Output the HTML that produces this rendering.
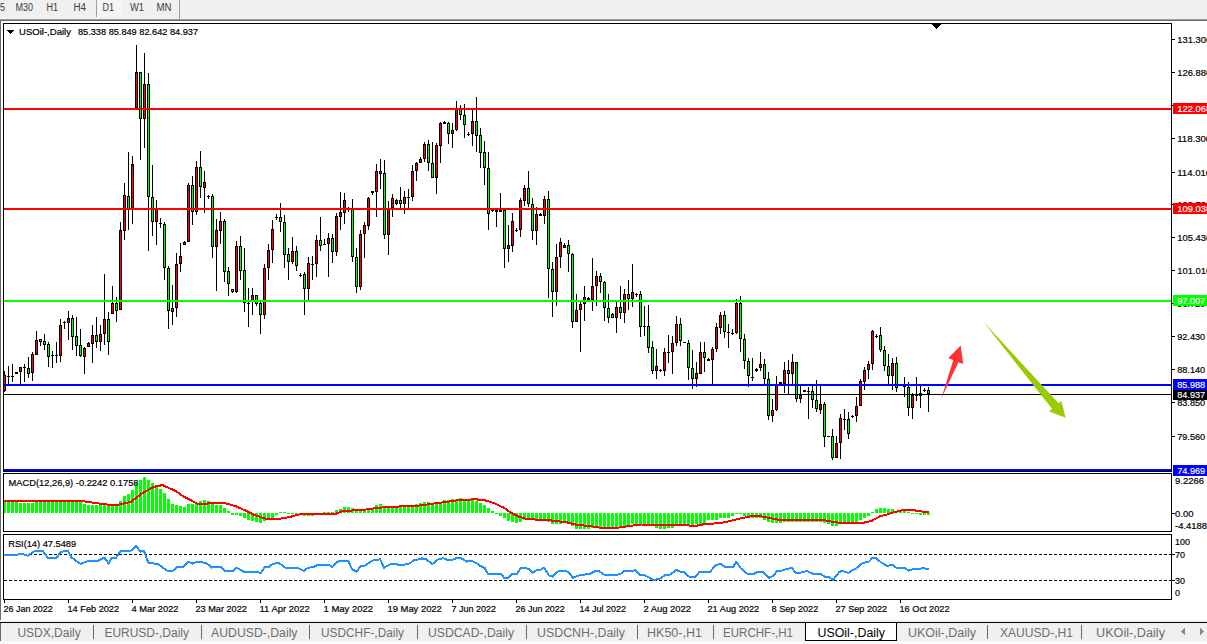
<!DOCTYPE html><html><head><meta charset="utf-8"><style>html,body{margin:0;padding:0;background:#fff;overflow:hidden}svg{display:block}text{font-family:"Liberation Sans", sans-serif}</style></head><body>
<svg width="1207" height="644" viewBox="0 0 1207 644" shape-rendering="crispEdges">
<rect x="0" y="0" width="1207" height="19" fill="#f0f0f0"/>
<rect x="0" y="19" width="1207" height="1" fill="#a0a0a0"/>
<rect x="0" y="20" width="1207" height="1" fill="#696969"/>
<defs><pattern id="dith" width="2" height="2" patternUnits="userSpaceOnUse"><rect width="2" height="2" fill="#f0f0f0"/><rect width="1" height="1" fill="#fafafa"/><rect x="1" y="1" width="1" height="1" fill="#fafafa"/></pattern></defs>
<rect x="97" y="0" width="24" height="17" fill="url(#dith)"/>
<rect x="96" y="0" width="1" height="17" fill="#a0a0a0"/>
<rect x="179" y="0" width="1" height="19" fill="#a0a0a0"/>
<text x="0" y="11" font-size="10" fill="#3c3c3c" font-weight="normal" text-anchor="start" textLength="5" lengthAdjust="spacingAndGlyphs" >5</text>
<text x="15.5" y="11" font-size="10" fill="#3c3c3c" font-weight="normal" text-anchor="start" textLength="17.5" lengthAdjust="spacingAndGlyphs" >M30</text>
<text x="46.5" y="11" font-size="10" fill="#3c3c3c" font-weight="normal" text-anchor="start" textLength="11.5" lengthAdjust="spacingAndGlyphs" >H1</text>
<text x="73.5" y="11" font-size="10" fill="#3c3c3c" font-weight="normal" text-anchor="start" textLength="12.5" lengthAdjust="spacingAndGlyphs" >H4</text>
<text x="102.5" y="11" font-size="10" fill="#3c3c3c" font-weight="normal" text-anchor="start" textLength="11.5" lengthAdjust="spacingAndGlyphs" >D1</text>
<text x="130" y="11" font-size="10" fill="#3c3c3c" font-weight="normal" text-anchor="start" textLength="14" lengthAdjust="spacingAndGlyphs" >W1</text>
<text x="156.5" y="11" font-size="10" fill="#3c3c3c" font-weight="normal" text-anchor="start" textLength="15" lengthAdjust="spacingAndGlyphs" >MN</text>
<rect x="0" y="21" width="1" height="599" fill="#696969"/>
<rect x="3.5" y="23.5" width="1168" height="448" fill="none" stroke="#000" stroke-width="1"/>
<rect x="3.5" y="473.5" width="1168" height="58" fill="none" stroke="#000" stroke-width="1"/>
<rect x="3.5" y="534.5" width="1168" height="65" fill="none" stroke="#000" stroke-width="1"/>
<clipPath id="main"><rect x="4" y="24" width="1167" height="447"/></clipPath>
<clipPath id="macd"><rect x="4" y="474" width="1167" height="57"/></clipPath>
<clipPath id="rsi"><rect x="4" y="535" width="1167" height="64"/></clipPath>
<g clip-path="url(#main)">
<rect x="4" y="371" width="1" height="21" fill="#000"/>
<rect x="3" y="375" width="3" height="16" fill="#000"/>
<rect x="4" y="376" width="1" height="14" fill="#ff0000"/>
<rect x="8" y="366" width="1" height="18" fill="#000"/>
<rect x="7" y="376" width="3" height="1" fill="#000"/>
<rect x="12" y="364" width="1" height="18" fill="#000"/>
<rect x="11" y="376" width="3" height="1" fill="#000"/>
<rect x="16" y="372" width="1" height="2" fill="#000"/>
<rect x="15" y="372" width="3" height="2" fill="#000"/>
<rect x="20" y="367" width="1" height="17" fill="#000"/>
<rect x="19" y="367" width="3" height="5" fill="#000"/>
<rect x="20" y="368" width="1" height="3" fill="#ff0000"/>
<rect x="24" y="364" width="1" height="18" fill="#000"/>
<rect x="23" y="367" width="3" height="1" fill="#000"/>
<rect x="28" y="357" width="1" height="21" fill="#000"/>
<rect x="27" y="368" width="3" height="6" fill="#000"/>
<rect x="28" y="369" width="1" height="4" fill="#00ff00"/>
<rect x="32" y="352" width="1" height="29" fill="#000"/>
<rect x="31" y="354" width="3" height="19" fill="#000"/>
<rect x="32" y="355" width="1" height="17" fill="#ff0000"/>
<rect x="36" y="331" width="1" height="24" fill="#000"/>
<rect x="35" y="340" width="3" height="15" fill="#000"/>
<rect x="36" y="341" width="1" height="13" fill="#ff0000"/>
<rect x="40" y="339" width="1" height="7" fill="#000"/>
<rect x="39" y="339" width="3" height="3" fill="#000"/>
<rect x="40" y="340" width="1" height="1" fill="#00ff00"/>
<rect x="44" y="334" width="1" height="16" fill="#000"/>
<rect x="43" y="341" width="3" height="4" fill="#000"/>
<rect x="44" y="342" width="1" height="2" fill="#00ff00"/>
<rect x="48" y="342" width="1" height="25" fill="#000"/>
<rect x="47" y="344" width="3" height="13" fill="#000"/>
<rect x="48" y="345" width="1" height="11" fill="#00ff00"/>
<rect x="52" y="351" width="1" height="17" fill="#000"/>
<rect x="51" y="355" width="3" height="1" fill="#000"/>
<rect x="56" y="342" width="1" height="21" fill="#000"/>
<rect x="55" y="355" width="3" height="1" fill="#000"/>
<rect x="60" y="319" width="1" height="43" fill="#000"/>
<rect x="59" y="325" width="3" height="31" fill="#000"/>
<rect x="60" y="326" width="1" height="29" fill="#ff0000"/>
<rect x="64" y="321" width="1" height="8" fill="#000"/>
<rect x="63" y="322" width="3" height="1" fill="#000"/>
<rect x="68" y="311" width="1" height="29" fill="#000"/>
<rect x="67" y="318" width="3" height="5" fill="#000"/>
<rect x="68" y="319" width="1" height="3" fill="#ff0000"/>
<rect x="72" y="315" width="1" height="35" fill="#000"/>
<rect x="71" y="318" width="3" height="19" fill="#000"/>
<rect x="72" y="319" width="1" height="17" fill="#00ff00"/>
<rect x="76" y="317" width="1" height="39" fill="#000"/>
<rect x="75" y="336" width="3" height="10" fill="#000"/>
<rect x="76" y="337" width="1" height="8" fill="#00ff00"/>
<rect x="80" y="329" width="1" height="28" fill="#000"/>
<rect x="79" y="345" width="3" height="11" fill="#000"/>
<rect x="80" y="346" width="1" height="9" fill="#00ff00"/>
<rect x="84" y="347" width="1" height="27" fill="#000"/>
<rect x="83" y="348" width="3" height="9" fill="#000"/>
<rect x="84" y="349" width="1" height="7" fill="#ff0000"/>
<rect x="88" y="342" width="1" height="5" fill="#000"/>
<rect x="87" y="343" width="3" height="4" fill="#000"/>
<rect x="88" y="344" width="1" height="2" fill="#ff0000"/>
<rect x="92" y="325" width="1" height="38" fill="#000"/>
<rect x="91" y="335" width="3" height="9" fill="#000"/>
<rect x="92" y="336" width="1" height="7" fill="#ff0000"/>
<rect x="96" y="317" width="1" height="31" fill="#000"/>
<rect x="95" y="335" width="3" height="7" fill="#000"/>
<rect x="96" y="336" width="1" height="5" fill="#00ff00"/>
<rect x="100" y="325" width="1" height="26" fill="#000"/>
<rect x="99" y="334" width="3" height="8" fill="#000"/>
<rect x="100" y="335" width="1" height="6" fill="#ff0000"/>
<rect x="104" y="274" width="1" height="71" fill="#000"/>
<rect x="103" y="319" width="3" height="15" fill="#000"/>
<rect x="104" y="320" width="1" height="13" fill="#ff0000"/>
<rect x="108" y="312" width="1" height="43" fill="#000"/>
<rect x="107" y="319" width="3" height="23" fill="#000"/>
<rect x="108" y="320" width="1" height="21" fill="#00ff00"/>
<rect x="112" y="286" width="1" height="28" fill="#000"/>
<rect x="111" y="303" width="3" height="11" fill="#000"/>
<rect x="112" y="304" width="1" height="9" fill="#ff0000"/>
<rect x="116" y="297" width="1" height="25" fill="#000"/>
<rect x="115" y="303" width="3" height="8" fill="#000"/>
<rect x="116" y="304" width="1" height="6" fill="#00ff00"/>
<rect x="120" y="222" width="1" height="88" fill="#000"/>
<rect x="119" y="230" width="3" height="80" fill="#000"/>
<rect x="120" y="231" width="1" height="78" fill="#ff0000"/>
<rect x="124" y="183" width="1" height="57" fill="#000"/>
<rect x="123" y="195" width="3" height="36" fill="#000"/>
<rect x="124" y="196" width="1" height="34" fill="#ff0000"/>
<rect x="128" y="152" width="1" height="78" fill="#000"/>
<rect x="127" y="196" width="3" height="13" fill="#000"/>
<rect x="128" y="197" width="1" height="11" fill="#00ff00"/>
<rect x="132" y="156" width="1" height="68" fill="#000"/>
<rect x="131" y="164" width="3" height="44" fill="#000"/>
<rect x="132" y="165" width="1" height="42" fill="#ff0000"/>
<rect x="136" y="45" width="1" height="64" fill="#000"/>
<rect x="135" y="72" width="3" height="36" fill="#000"/>
<rect x="136" y="73" width="1" height="34" fill="#ff0000"/>
<rect x="140" y="72" width="1" height="88" fill="#000"/>
<rect x="139" y="72" width="3" height="47" fill="#000"/>
<rect x="140" y="73" width="1" height="45" fill="#00ff00"/>
<rect x="144" y="53" width="1" height="95" fill="#000"/>
<rect x="143" y="84" width="3" height="35" fill="#000"/>
<rect x="144" y="85" width="1" height="33" fill="#ff0000"/>
<rect x="148" y="73" width="1" height="178" fill="#000"/>
<rect x="147" y="84" width="3" height="113" fill="#000"/>
<rect x="148" y="85" width="1" height="111" fill="#00ff00"/>
<rect x="152" y="165" width="1" height="71" fill="#000"/>
<rect x="151" y="197" width="3" height="25" fill="#000"/>
<rect x="152" y="198" width="1" height="23" fill="#00ff00"/>
<rect x="156" y="200" width="1" height="45" fill="#000"/>
<rect x="155" y="209" width="3" height="13" fill="#000"/>
<rect x="156" y="210" width="1" height="11" fill="#ff0000"/>
<rect x="160" y="218" width="1" height="10" fill="#000"/>
<rect x="159" y="223" width="3" height="1" fill="#000"/>
<rect x="164" y="222" width="1" height="58" fill="#000"/>
<rect x="163" y="224" width="3" height="44" fill="#000"/>
<rect x="164" y="225" width="1" height="42" fill="#00ff00"/>
<rect x="168" y="266" width="1" height="63" fill="#000"/>
<rect x="167" y="268" width="3" height="43" fill="#000"/>
<rect x="168" y="269" width="1" height="41" fill="#00ff00"/>
<rect x="172" y="285" width="1" height="40" fill="#000"/>
<rect x="171" y="308" width="3" height="4" fill="#000"/>
<rect x="172" y="309" width="1" height="2" fill="#ff0000"/>
<rect x="176" y="253" width="1" height="64" fill="#000"/>
<rect x="175" y="264" width="3" height="44" fill="#000"/>
<rect x="176" y="265" width="1" height="42" fill="#ff0000"/>
<rect x="180" y="243" width="1" height="29" fill="#000"/>
<rect x="179" y="256" width="3" height="8" fill="#000"/>
<rect x="180" y="257" width="1" height="6" fill="#ff0000"/>
<rect x="184" y="241" width="1" height="4" fill="#000"/>
<rect x="183" y="242" width="3" height="3" fill="#000"/>
<rect x="184" y="243" width="1" height="1" fill="#ff0000"/>
<rect x="188" y="183" width="1" height="59" fill="#000"/>
<rect x="187" y="185" width="3" height="57" fill="#000"/>
<rect x="188" y="186" width="1" height="55" fill="#ff0000"/>
<rect x="192" y="176" width="1" height="49" fill="#000"/>
<rect x="191" y="185" width="3" height="27" fill="#000"/>
<rect x="192" y="186" width="1" height="25" fill="#00ff00"/>
<rect x="196" y="161" width="1" height="54" fill="#000"/>
<rect x="195" y="167" width="3" height="45" fill="#000"/>
<rect x="196" y="168" width="1" height="43" fill="#ff0000"/>
<rect x="200" y="151" width="1" height="47" fill="#000"/>
<rect x="199" y="167" width="3" height="20" fill="#000"/>
<rect x="200" y="168" width="1" height="18" fill="#00ff00"/>
<rect x="204" y="171" width="1" height="42" fill="#000"/>
<rect x="203" y="182" width="3" height="6" fill="#000"/>
<rect x="204" y="183" width="1" height="4" fill="#ff0000"/>
<rect x="208" y="195" width="1" height="4" fill="#000"/>
<rect x="207" y="196" width="3" height="1" fill="#000"/>
<rect x="212" y="194" width="1" height="64" fill="#000"/>
<rect x="211" y="196" width="3" height="51" fill="#000"/>
<rect x="212" y="197" width="1" height="49" fill="#00ff00"/>
<rect x="216" y="219" width="1" height="72" fill="#000"/>
<rect x="215" y="230" width="3" height="17" fill="#000"/>
<rect x="216" y="231" width="1" height="15" fill="#ff0000"/>
<rect x="220" y="212" width="1" height="32" fill="#000"/>
<rect x="219" y="221" width="3" height="10" fill="#000"/>
<rect x="220" y="222" width="1" height="8" fill="#ff0000"/>
<rect x="224" y="219" width="1" height="63" fill="#000"/>
<rect x="223" y="221" width="3" height="51" fill="#000"/>
<rect x="224" y="222" width="1" height="49" fill="#00ff00"/>
<rect x="228" y="267" width="1" height="29" fill="#000"/>
<rect x="227" y="271" width="3" height="13" fill="#000"/>
<rect x="228" y="272" width="1" height="11" fill="#00ff00"/>
<rect x="232" y="289" width="1" height="4" fill="#000"/>
<rect x="231" y="289" width="3" height="3" fill="#000"/>
<rect x="232" y="290" width="1" height="1" fill="#00ff00"/>
<rect x="236" y="241" width="1" height="52" fill="#000"/>
<rect x="235" y="246" width="3" height="46" fill="#000"/>
<rect x="236" y="247" width="1" height="44" fill="#ff0000"/>
<rect x="240" y="236" width="1" height="44" fill="#000"/>
<rect x="239" y="246" width="3" height="25" fill="#000"/>
<rect x="240" y="247" width="1" height="23" fill="#00ff00"/>
<rect x="244" y="248" width="1" height="64" fill="#000"/>
<rect x="243" y="270" width="3" height="33" fill="#000"/>
<rect x="244" y="271" width="1" height="31" fill="#00ff00"/>
<rect x="248" y="288" width="1" height="39" fill="#000"/>
<rect x="247" y="303" width="3" height="1" fill="#000"/>
<rect x="252" y="288" width="1" height="27" fill="#000"/>
<rect x="251" y="295" width="3" height="7" fill="#000"/>
<rect x="252" y="296" width="1" height="5" fill="#ff0000"/>
<rect x="256" y="295" width="1" height="11" fill="#000"/>
<rect x="255" y="295" width="3" height="9" fill="#000"/>
<rect x="256" y="296" width="1" height="7" fill="#00ff00"/>
<rect x="260" y="302" width="1" height="32" fill="#000"/>
<rect x="259" y="303" width="3" height="12" fill="#000"/>
<rect x="260" y="304" width="1" height="10" fill="#00ff00"/>
<rect x="264" y="264" width="1" height="55" fill="#000"/>
<rect x="263" y="268" width="3" height="47" fill="#000"/>
<rect x="264" y="269" width="1" height="45" fill="#ff0000"/>
<rect x="268" y="244" width="1" height="36" fill="#000"/>
<rect x="267" y="250" width="3" height="18" fill="#000"/>
<rect x="268" y="251" width="1" height="16" fill="#ff0000"/>
<rect x="272" y="220" width="1" height="43" fill="#000"/>
<rect x="271" y="229" width="3" height="21" fill="#000"/>
<rect x="272" y="230" width="1" height="19" fill="#ff0000"/>
<rect x="276" y="214" width="1" height="6" fill="#000"/>
<rect x="275" y="217" width="3" height="1" fill="#000"/>
<rect x="280" y="203" width="1" height="29" fill="#000"/>
<rect x="279" y="217" width="3" height="5" fill="#000"/>
<rect x="280" y="218" width="1" height="3" fill="#00ff00"/>
<rect x="284" y="215" width="1" height="53" fill="#000"/>
<rect x="283" y="222" width="3" height="33" fill="#000"/>
<rect x="284" y="223" width="1" height="31" fill="#00ff00"/>
<rect x="288" y="248" width="1" height="32" fill="#000"/>
<rect x="287" y="254" width="3" height="8" fill="#000"/>
<rect x="288" y="255" width="1" height="6" fill="#00ff00"/>
<rect x="292" y="237" width="1" height="27" fill="#000"/>
<rect x="291" y="251" width="3" height="11" fill="#000"/>
<rect x="292" y="252" width="1" height="9" fill="#ff0000"/>
<rect x="296" y="246" width="1" height="25" fill="#000"/>
<rect x="295" y="251" width="3" height="15" fill="#000"/>
<rect x="296" y="252" width="1" height="13" fill="#00ff00"/>
<rect x="300" y="273" width="1" height="4" fill="#000"/>
<rect x="299" y="275" width="3" height="1" fill="#000"/>
<rect x="304" y="272" width="1" height="43" fill="#000"/>
<rect x="303" y="274" width="3" height="15" fill="#000"/>
<rect x="304" y="275" width="1" height="13" fill="#00ff00"/>
<rect x="308" y="257" width="1" height="43" fill="#000"/>
<rect x="307" y="263" width="3" height="26" fill="#000"/>
<rect x="308" y="264" width="1" height="24" fill="#ff0000"/>
<rect x="312" y="256" width="1" height="24" fill="#000"/>
<rect x="311" y="264" width="3" height="1" fill="#000"/>
<rect x="316" y="235" width="1" height="42" fill="#000"/>
<rect x="315" y="240" width="3" height="24" fill="#000"/>
<rect x="316" y="241" width="1" height="22" fill="#ff0000"/>
<rect x="320" y="217" width="1" height="34" fill="#000"/>
<rect x="319" y="240" width="3" height="6" fill="#000"/>
<rect x="320" y="241" width="1" height="4" fill="#00ff00"/>
<rect x="324" y="239" width="1" height="5" fill="#000"/>
<rect x="323" y="244" width="3" height="1" fill="#000"/>
<rect x="328" y="233" width="1" height="44" fill="#000"/>
<rect x="327" y="238" width="3" height="6" fill="#000"/>
<rect x="328" y="239" width="1" height="4" fill="#ff0000"/>
<rect x="332" y="234" width="1" height="29" fill="#000"/>
<rect x="331" y="238" width="3" height="14" fill="#000"/>
<rect x="332" y="239" width="1" height="12" fill="#00ff00"/>
<rect x="336" y="213" width="1" height="43" fill="#000"/>
<rect x="335" y="216" width="3" height="36" fill="#000"/>
<rect x="336" y="217" width="1" height="34" fill="#ff0000"/>
<rect x="340" y="192" width="1" height="38" fill="#000"/>
<rect x="339" y="212" width="3" height="5" fill="#000"/>
<rect x="340" y="213" width="1" height="3" fill="#ff0000"/>
<rect x="344" y="193" width="1" height="31" fill="#000"/>
<rect x="343" y="200" width="3" height="13" fill="#000"/>
<rect x="344" y="201" width="1" height="11" fill="#ff0000"/>
<rect x="348" y="207" width="1" height="5" fill="#000"/>
<rect x="347" y="209" width="3" height="1" fill="#000"/>
<rect x="352" y="199" width="1" height="63" fill="#000"/>
<rect x="351" y="209" width="3" height="48" fill="#000"/>
<rect x="352" y="210" width="1" height="46" fill="#00ff00"/>
<rect x="356" y="248" width="1" height="45" fill="#000"/>
<rect x="355" y="257" width="3" height="30" fill="#000"/>
<rect x="356" y="258" width="1" height="28" fill="#00ff00"/>
<rect x="360" y="230" width="1" height="60" fill="#000"/>
<rect x="359" y="234" width="3" height="53" fill="#000"/>
<rect x="360" y="235" width="1" height="51" fill="#ff0000"/>
<rect x="364" y="222" width="1" height="36" fill="#000"/>
<rect x="363" y="225" width="3" height="9" fill="#000"/>
<rect x="364" y="226" width="1" height="7" fill="#ff0000"/>
<rect x="368" y="197" width="1" height="33" fill="#000"/>
<rect x="367" y="198" width="3" height="28" fill="#000"/>
<rect x="368" y="199" width="1" height="26" fill="#ff0000"/>
<rect x="372" y="191" width="1" height="4" fill="#000"/>
<rect x="371" y="191" width="3" height="2" fill="#000"/>
<rect x="376" y="164" width="1" height="53" fill="#000"/>
<rect x="375" y="171" width="3" height="21" fill="#000"/>
<rect x="376" y="172" width="1" height="19" fill="#ff0000"/>
<rect x="380" y="159" width="1" height="30" fill="#000"/>
<rect x="379" y="171" width="3" height="3" fill="#000"/>
<rect x="380" y="172" width="1" height="1" fill="#00ff00"/>
<rect x="384" y="160" width="1" height="79" fill="#000"/>
<rect x="383" y="173" width="3" height="62" fill="#000"/>
<rect x="384" y="174" width="1" height="60" fill="#00ff00"/>
<rect x="388" y="201" width="1" height="54" fill="#000"/>
<rect x="387" y="209" width="3" height="26" fill="#000"/>
<rect x="388" y="210" width="1" height="24" fill="#ff0000"/>
<rect x="392" y="194" width="1" height="23" fill="#000"/>
<rect x="391" y="198" width="3" height="10" fill="#000"/>
<rect x="392" y="199" width="1" height="8" fill="#ff0000"/>
<rect x="396" y="199" width="1" height="6" fill="#000"/>
<rect x="395" y="200" width="3" height="4" fill="#000"/>
<rect x="396" y="201" width="1" height="2" fill="#ff0000"/>
<rect x="400" y="187" width="1" height="21" fill="#000"/>
<rect x="399" y="200" width="3" height="4" fill="#000"/>
<rect x="400" y="201" width="1" height="2" fill="#00ff00"/>
<rect x="404" y="191" width="1" height="23" fill="#000"/>
<rect x="403" y="197" width="3" height="7" fill="#000"/>
<rect x="404" y="198" width="1" height="5" fill="#ff0000"/>
<rect x="408" y="189" width="1" height="19" fill="#000"/>
<rect x="407" y="197" width="3" height="1" fill="#000"/>
<rect x="412" y="165" width="1" height="36" fill="#000"/>
<rect x="411" y="171" width="3" height="26" fill="#000"/>
<rect x="412" y="172" width="1" height="24" fill="#ff0000"/>
<rect x="416" y="162" width="1" height="19" fill="#000"/>
<rect x="415" y="163" width="3" height="8" fill="#000"/>
<rect x="416" y="164" width="1" height="6" fill="#ff0000"/>
<rect x="420" y="157" width="1" height="6" fill="#000"/>
<rect x="419" y="159" width="3" height="4" fill="#000"/>
<rect x="420" y="160" width="1" height="2" fill="#ff0000"/>
<rect x="424" y="142" width="1" height="20" fill="#000"/>
<rect x="423" y="144" width="3" height="15" fill="#000"/>
<rect x="424" y="145" width="1" height="13" fill="#ff0000"/>
<rect x="428" y="140" width="1" height="31" fill="#000"/>
<rect x="427" y="144" width="3" height="19" fill="#000"/>
<rect x="428" y="145" width="1" height="17" fill="#00ff00"/>
<rect x="432" y="142" width="1" height="36" fill="#000"/>
<rect x="431" y="163" width="3" height="15" fill="#000"/>
<rect x="432" y="164" width="1" height="13" fill="#00ff00"/>
<rect x="436" y="143" width="1" height="51" fill="#000"/>
<rect x="435" y="145" width="3" height="33" fill="#000"/>
<rect x="436" y="146" width="1" height="31" fill="#ff0000"/>
<rect x="440" y="122" width="1" height="41" fill="#000"/>
<rect x="439" y="123" width="3" height="23" fill="#000"/>
<rect x="440" y="124" width="1" height="21" fill="#ff0000"/>
<rect x="444" y="121" width="1" height="3" fill="#000"/>
<rect x="443" y="122" width="3" height="2" fill="#000"/>
<rect x="448" y="122" width="1" height="22" fill="#000"/>
<rect x="447" y="123" width="3" height="11" fill="#000"/>
<rect x="448" y="124" width="1" height="9" fill="#00ff00"/>
<rect x="452" y="123" width="1" height="25" fill="#000"/>
<rect x="451" y="130" width="3" height="4" fill="#000"/>
<rect x="452" y="131" width="1" height="2" fill="#ff0000"/>
<rect x="456" y="101" width="1" height="30" fill="#000"/>
<rect x="455" y="109" width="3" height="21" fill="#000"/>
<rect x="456" y="110" width="1" height="19" fill="#ff0000"/>
<rect x="460" y="105" width="1" height="15" fill="#000"/>
<rect x="459" y="109" width="3" height="6" fill="#000"/>
<rect x="460" y="110" width="1" height="4" fill="#00ff00"/>
<rect x="464" y="104" width="1" height="34" fill="#000"/>
<rect x="463" y="115" width="3" height="10" fill="#000"/>
<rect x="464" y="116" width="1" height="8" fill="#00ff00"/>
<rect x="468" y="132" width="1" height="4" fill="#000"/>
<rect x="467" y="134" width="3" height="1" fill="#000"/>
<rect x="472" y="109" width="1" height="37" fill="#000"/>
<rect x="471" y="121" width="3" height="13" fill="#000"/>
<rect x="472" y="122" width="1" height="11" fill="#ff0000"/>
<rect x="476" y="97" width="1" height="55" fill="#000"/>
<rect x="475" y="121" width="3" height="15" fill="#000"/>
<rect x="476" y="122" width="1" height="13" fill="#00ff00"/>
<rect x="480" y="128" width="1" height="40" fill="#000"/>
<rect x="479" y="135" width="3" height="18" fill="#000"/>
<rect x="480" y="136" width="1" height="16" fill="#00ff00"/>
<rect x="484" y="141" width="1" height="44" fill="#000"/>
<rect x="483" y="152" width="3" height="16" fill="#000"/>
<rect x="484" y="153" width="1" height="14" fill="#00ff00"/>
<rect x="488" y="152" width="1" height="78" fill="#000"/>
<rect x="487" y="168" width="3" height="46" fill="#000"/>
<rect x="488" y="169" width="1" height="44" fill="#00ff00"/>
<rect x="492" y="209" width="1" height="3" fill="#000"/>
<rect x="491" y="210" width="3" height="1" fill="#000"/>
<rect x="496" y="209" width="1" height="18" fill="#000"/>
<rect x="495" y="210" width="3" height="2" fill="#000"/>
<rect x="500" y="193" width="1" height="19" fill="#000"/>
<rect x="499" y="210" width="3" height="2" fill="#000"/>
<rect x="504" y="210" width="1" height="58" fill="#000"/>
<rect x="503" y="210" width="3" height="39" fill="#000"/>
<rect x="504" y="211" width="1" height="37" fill="#00ff00"/>
<rect x="508" y="225" width="1" height="37" fill="#000"/>
<rect x="507" y="245" width="3" height="4" fill="#000"/>
<rect x="508" y="246" width="1" height="2" fill="#ff0000"/>
<rect x="512" y="213" width="1" height="39" fill="#000"/>
<rect x="511" y="221" width="3" height="25" fill="#000"/>
<rect x="512" y="222" width="1" height="23" fill="#ff0000"/>
<rect x="516" y="228" width="1" height="4" fill="#000"/>
<rect x="515" y="230" width="3" height="1" fill="#000"/>
<rect x="520" y="198" width="1" height="39" fill="#000"/>
<rect x="519" y="200" width="3" height="30" fill="#000"/>
<rect x="520" y="201" width="1" height="28" fill="#ff0000"/>
<rect x="524" y="185" width="1" height="21" fill="#000"/>
<rect x="523" y="188" width="3" height="13" fill="#000"/>
<rect x="524" y="189" width="1" height="11" fill="#ff0000"/>
<rect x="528" y="171" width="1" height="36" fill="#000"/>
<rect x="527" y="188" width="3" height="16" fill="#000"/>
<rect x="528" y="189" width="1" height="14" fill="#00ff00"/>
<rect x="532" y="198" width="1" height="42" fill="#000"/>
<rect x="531" y="204" width="3" height="27" fill="#000"/>
<rect x="532" y="205" width="1" height="25" fill="#00ff00"/>
<rect x="536" y="207" width="1" height="38" fill="#000"/>
<rect x="535" y="214" width="3" height="17" fill="#000"/>
<rect x="536" y="215" width="1" height="15" fill="#ff0000"/>
<rect x="540" y="213" width="1" height="3" fill="#000"/>
<rect x="539" y="214" width="3" height="2" fill="#000"/>
<rect x="544" y="196" width="1" height="28" fill="#000"/>
<rect x="543" y="199" width="3" height="17" fill="#000"/>
<rect x="544" y="200" width="1" height="15" fill="#ff0000"/>
<rect x="548" y="191" width="1" height="107" fill="#000"/>
<rect x="547" y="199" width="3" height="70" fill="#000"/>
<rect x="548" y="200" width="1" height="68" fill="#00ff00"/>
<rect x="552" y="262" width="1" height="55" fill="#000"/>
<rect x="551" y="269" width="3" height="23" fill="#000"/>
<rect x="552" y="270" width="1" height="21" fill="#00ff00"/>
<rect x="556" y="244" width="1" height="62" fill="#000"/>
<rect x="555" y="257" width="3" height="35" fill="#000"/>
<rect x="556" y="258" width="1" height="33" fill="#ff0000"/>
<rect x="560" y="238" width="1" height="30" fill="#000"/>
<rect x="559" y="242" width="3" height="15" fill="#000"/>
<rect x="560" y="243" width="1" height="13" fill="#ff0000"/>
<rect x="564" y="243" width="1" height="5" fill="#000"/>
<rect x="563" y="245" width="3" height="3" fill="#000"/>
<rect x="564" y="246" width="1" height="1" fill="#ff0000"/>
<rect x="568" y="240" width="1" height="32" fill="#000"/>
<rect x="567" y="245" width="3" height="9" fill="#000"/>
<rect x="568" y="246" width="1" height="7" fill="#00ff00"/>
<rect x="572" y="253" width="1" height="75" fill="#000"/>
<rect x="571" y="254" width="3" height="68" fill="#000"/>
<rect x="572" y="255" width="1" height="66" fill="#00ff00"/>
<rect x="576" y="294" width="1" height="28" fill="#000"/>
<rect x="575" y="310" width="3" height="12" fill="#000"/>
<rect x="576" y="311" width="1" height="10" fill="#ff0000"/>
<rect x="580" y="302" width="1" height="50" fill="#000"/>
<rect x="579" y="304" width="3" height="6" fill="#000"/>
<rect x="580" y="305" width="1" height="4" fill="#ff0000"/>
<rect x="584" y="286" width="1" height="35" fill="#000"/>
<rect x="583" y="297" width="3" height="7" fill="#000"/>
<rect x="584" y="298" width="1" height="5" fill="#ff0000"/>
<rect x="588" y="297" width="1" height="4" fill="#000"/>
<rect x="587" y="298" width="3" height="2" fill="#000"/>
<rect x="592" y="258" width="1" height="53" fill="#000"/>
<rect x="591" y="286" width="3" height="14" fill="#000"/>
<rect x="592" y="287" width="1" height="12" fill="#ff0000"/>
<rect x="596" y="271" width="1" height="35" fill="#000"/>
<rect x="595" y="276" width="3" height="10" fill="#000"/>
<rect x="596" y="277" width="1" height="8" fill="#ff0000"/>
<rect x="600" y="273" width="1" height="20" fill="#000"/>
<rect x="599" y="276" width="3" height="6" fill="#000"/>
<rect x="600" y="277" width="1" height="4" fill="#00ff00"/>
<rect x="604" y="281" width="1" height="40" fill="#000"/>
<rect x="603" y="282" width="3" height="26" fill="#000"/>
<rect x="604" y="283" width="1" height="24" fill="#00ff00"/>
<rect x="608" y="294" width="1" height="29" fill="#000"/>
<rect x="607" y="308" width="3" height="10" fill="#000"/>
<rect x="608" y="309" width="1" height="8" fill="#00ff00"/>
<rect x="612" y="313" width="1" height="5" fill="#000"/>
<rect x="611" y="314" width="3" height="4" fill="#000"/>
<rect x="612" y="315" width="1" height="2" fill="#00ff00"/>
<rect x="616" y="302" width="1" height="31" fill="#000"/>
<rect x="615" y="307" width="3" height="11" fill="#000"/>
<rect x="616" y="308" width="1" height="9" fill="#ff0000"/>
<rect x="620" y="286" width="1" height="33" fill="#000"/>
<rect x="619" y="307" width="3" height="6" fill="#000"/>
<rect x="620" y="308" width="1" height="4" fill="#00ff00"/>
<rect x="624" y="289" width="1" height="34" fill="#000"/>
<rect x="623" y="294" width="3" height="19" fill="#000"/>
<rect x="624" y="295" width="1" height="17" fill="#ff0000"/>
<rect x="628" y="280" width="1" height="30" fill="#000"/>
<rect x="627" y="294" width="3" height="5" fill="#000"/>
<rect x="628" y="295" width="1" height="3" fill="#00ff00"/>
<rect x="632" y="264" width="1" height="43" fill="#000"/>
<rect x="631" y="292" width="3" height="7" fill="#000"/>
<rect x="632" y="293" width="1" height="5" fill="#ff0000"/>
<rect x="636" y="293" width="1" height="4" fill="#000"/>
<rect x="635" y="294" width="3" height="1" fill="#000"/>
<rect x="640" y="291" width="1" height="46" fill="#000"/>
<rect x="639" y="294" width="3" height="33" fill="#000"/>
<rect x="640" y="295" width="1" height="31" fill="#00ff00"/>
<rect x="644" y="306" width="1" height="30" fill="#000"/>
<rect x="643" y="326" width="3" height="1" fill="#000"/>
<rect x="648" y="305" width="1" height="48" fill="#000"/>
<rect x="647" y="326" width="3" height="22" fill="#000"/>
<rect x="648" y="327" width="1" height="20" fill="#00ff00"/>
<rect x="652" y="341" width="1" height="33" fill="#000"/>
<rect x="651" y="347" width="3" height="24" fill="#000"/>
<rect x="652" y="348" width="1" height="22" fill="#00ff00"/>
<rect x="656" y="349" width="1" height="30" fill="#000"/>
<rect x="655" y="366" width="3" height="5" fill="#000"/>
<rect x="656" y="367" width="1" height="3" fill="#ff0000"/>
<rect x="660" y="369" width="1" height="3" fill="#000"/>
<rect x="659" y="370" width="3" height="1" fill="#000"/>
<rect x="664" y="348" width="1" height="28" fill="#000"/>
<rect x="663" y="352" width="3" height="19" fill="#000"/>
<rect x="664" y="353" width="1" height="17" fill="#ff0000"/>
<rect x="668" y="335" width="1" height="28" fill="#000"/>
<rect x="667" y="352" width="3" height="1" fill="#000"/>
<rect x="672" y="336" width="1" height="38" fill="#000"/>
<rect x="671" y="343" width="3" height="9" fill="#000"/>
<rect x="672" y="344" width="1" height="7" fill="#ff0000"/>
<rect x="676" y="316" width="1" height="30" fill="#000"/>
<rect x="675" y="324" width="3" height="19" fill="#000"/>
<rect x="676" y="325" width="1" height="17" fill="#ff0000"/>
<rect x="680" y="318" width="1" height="28" fill="#000"/>
<rect x="679" y="324" width="3" height="17" fill="#000"/>
<rect x="680" y="325" width="1" height="15" fill="#00ff00"/>
<rect x="684" y="342" width="1" height="1" fill="#000"/>
<rect x="683" y="342" width="3" height="1" fill="#000"/>
<rect x="688" y="340" width="1" height="40" fill="#000"/>
<rect x="687" y="343" width="3" height="25" fill="#000"/>
<rect x="688" y="344" width="1" height="23" fill="#00ff00"/>
<rect x="692" y="350" width="1" height="39" fill="#000"/>
<rect x="691" y="368" width="3" height="11" fill="#000"/>
<rect x="692" y="369" width="1" height="9" fill="#00ff00"/>
<rect x="696" y="362" width="1" height="25" fill="#000"/>
<rect x="695" y="373" width="3" height="6" fill="#000"/>
<rect x="696" y="374" width="1" height="4" fill="#ff0000"/>
<rect x="700" y="342" width="1" height="32" fill="#000"/>
<rect x="699" y="352" width="3" height="22" fill="#000"/>
<rect x="700" y="353" width="1" height="20" fill="#ff0000"/>
<rect x="704" y="342" width="1" height="30" fill="#000"/>
<rect x="703" y="352" width="3" height="6" fill="#000"/>
<rect x="704" y="353" width="1" height="4" fill="#00ff00"/>
<rect x="708" y="358" width="1" height="3" fill="#000"/>
<rect x="707" y="359" width="3" height="2" fill="#000"/>
<rect x="712" y="347" width="1" height="37" fill="#000"/>
<rect x="711" y="349" width="3" height="11" fill="#000"/>
<rect x="712" y="350" width="1" height="9" fill="#ff0000"/>
<rect x="716" y="323" width="1" height="29" fill="#000"/>
<rect x="715" y="327" width="3" height="22" fill="#000"/>
<rect x="716" y="328" width="1" height="20" fill="#ff0000"/>
<rect x="720" y="312" width="1" height="22" fill="#000"/>
<rect x="719" y="315" width="3" height="13" fill="#000"/>
<rect x="720" y="316" width="1" height="11" fill="#ff0000"/>
<rect x="724" y="311" width="1" height="27" fill="#000"/>
<rect x="723" y="315" width="3" height="17" fill="#000"/>
<rect x="724" y="316" width="1" height="15" fill="#00ff00"/>
<rect x="728" y="324" width="1" height="24" fill="#000"/>
<rect x="727" y="332" width="3" height="1" fill="#000"/>
<rect x="732" y="329" width="1" height="6" fill="#000"/>
<rect x="731" y="333" width="3" height="1" fill="#000"/>
<rect x="736" y="299" width="1" height="35" fill="#000"/>
<rect x="735" y="303" width="3" height="30" fill="#000"/>
<rect x="736" y="304" width="1" height="28" fill="#ff0000"/>
<rect x="740" y="296" width="1" height="56" fill="#000"/>
<rect x="739" y="303" width="3" height="36" fill="#000"/>
<rect x="740" y="304" width="1" height="34" fill="#00ff00"/>
<rect x="744" y="334" width="1" height="35" fill="#000"/>
<rect x="743" y="339" width="3" height="22" fill="#000"/>
<rect x="744" y="340" width="1" height="20" fill="#00ff00"/>
<rect x="748" y="358" width="1" height="29" fill="#000"/>
<rect x="747" y="361" width="3" height="15" fill="#000"/>
<rect x="748" y="362" width="1" height="13" fill="#00ff00"/>
<rect x="752" y="358" width="1" height="23" fill="#000"/>
<rect x="751" y="377" width="3" height="1" fill="#000"/>
<rect x="756" y="368" width="1" height="4" fill="#000"/>
<rect x="755" y="369" width="3" height="2" fill="#000"/>
<rect x="760" y="352" width="1" height="19" fill="#000"/>
<rect x="759" y="364" width="3" height="4" fill="#000"/>
<rect x="760" y="365" width="1" height="2" fill="#ff0000"/>
<rect x="764" y="359" width="1" height="25" fill="#000"/>
<rect x="763" y="364" width="3" height="15" fill="#000"/>
<rect x="764" y="365" width="1" height="13" fill="#00ff00"/>
<rect x="768" y="372" width="1" height="48" fill="#000"/>
<rect x="767" y="379" width="3" height="37" fill="#000"/>
<rect x="768" y="380" width="1" height="35" fill="#00ff00"/>
<rect x="772" y="399" width="1" height="23" fill="#000"/>
<rect x="771" y="410" width="3" height="6" fill="#000"/>
<rect x="772" y="411" width="1" height="4" fill="#ff0000"/>
<rect x="776" y="376" width="1" height="35" fill="#000"/>
<rect x="775" y="385" width="3" height="25" fill="#000"/>
<rect x="776" y="386" width="1" height="23" fill="#ff0000"/>
<rect x="780" y="382" width="1" height="2" fill="#000"/>
<rect x="779" y="382" width="3" height="2" fill="#000"/>
<rect x="784" y="362" width="1" height="31" fill="#000"/>
<rect x="783" y="370" width="3" height="14" fill="#000"/>
<rect x="784" y="371" width="1" height="12" fill="#ff0000"/>
<rect x="788" y="360" width="1" height="34" fill="#000"/>
<rect x="787" y="370" width="3" height="4" fill="#000"/>
<rect x="788" y="371" width="1" height="2" fill="#00ff00"/>
<rect x="792" y="354" width="1" height="31" fill="#000"/>
<rect x="791" y="362" width="3" height="12" fill="#000"/>
<rect x="792" y="363" width="1" height="10" fill="#ff0000"/>
<rect x="796" y="362" width="1" height="40" fill="#000"/>
<rect x="795" y="362" width="3" height="37" fill="#000"/>
<rect x="796" y="363" width="1" height="35" fill="#00ff00"/>
<rect x="800" y="386" width="1" height="17" fill="#000"/>
<rect x="799" y="395" width="3" height="4" fill="#000"/>
<rect x="800" y="396" width="1" height="2" fill="#ff0000"/>
<rect x="804" y="390" width="1" height="2" fill="#000"/>
<rect x="803" y="390" width="3" height="2" fill="#000"/>
<rect x="808" y="387" width="1" height="32" fill="#000"/>
<rect x="807" y="391" width="3" height="1" fill="#000"/>
<rect x="812" y="386" width="1" height="22" fill="#000"/>
<rect x="811" y="391" width="3" height="9" fill="#000"/>
<rect x="812" y="392" width="1" height="7" fill="#00ff00"/>
<rect x="816" y="380" width="1" height="32" fill="#000"/>
<rect x="815" y="400" width="3" height="9" fill="#000"/>
<rect x="816" y="401" width="1" height="7" fill="#00ff00"/>
<rect x="820" y="386" width="1" height="28" fill="#000"/>
<rect x="819" y="404" width="3" height="6" fill="#000"/>
<rect x="820" y="405" width="1" height="4" fill="#ff0000"/>
<rect x="824" y="402" width="1" height="45" fill="#000"/>
<rect x="823" y="404" width="3" height="33" fill="#000"/>
<rect x="824" y="405" width="1" height="31" fill="#00ff00"/>
<rect x="828" y="436" width="1" height="1" fill="#000"/>
<rect x="827" y="436" width="3" height="1" fill="#000"/>
<rect x="832" y="429" width="1" height="31" fill="#000"/>
<rect x="831" y="436" width="3" height="22" fill="#000"/>
<rect x="832" y="437" width="1" height="20" fill="#00ff00"/>
<rect x="836" y="436" width="1" height="22" fill="#000"/>
<rect x="835" y="443" width="3" height="15" fill="#000"/>
<rect x="836" y="444" width="1" height="13" fill="#ff0000"/>
<rect x="840" y="414" width="1" height="45" fill="#000"/>
<rect x="839" y="418" width="3" height="25" fill="#000"/>
<rect x="840" y="419" width="1" height="23" fill="#ff0000"/>
<rect x="844" y="409" width="1" height="21" fill="#000"/>
<rect x="843" y="419" width="3" height="1" fill="#000"/>
<rect x="848" y="412" width="1" height="27" fill="#000"/>
<rect x="847" y="419" width="3" height="15" fill="#000"/>
<rect x="848" y="420" width="1" height="13" fill="#00ff00"/>
<rect x="852" y="415" width="1" height="3" fill="#000"/>
<rect x="851" y="416" width="3" height="1" fill="#000"/>
<rect x="856" y="397" width="1" height="25" fill="#000"/>
<rect x="855" y="406" width="3" height="10" fill="#000"/>
<rect x="856" y="407" width="1" height="8" fill="#ff0000"/>
<rect x="860" y="379" width="1" height="27" fill="#000"/>
<rect x="859" y="381" width="3" height="25" fill="#000"/>
<rect x="860" y="382" width="1" height="23" fill="#ff0000"/>
<rect x="864" y="367" width="1" height="23" fill="#000"/>
<rect x="863" y="370" width="3" height="12" fill="#000"/>
<rect x="864" y="371" width="1" height="10" fill="#ff0000"/>
<rect x="868" y="361" width="1" height="18" fill="#000"/>
<rect x="867" y="364" width="3" height="6" fill="#000"/>
<rect x="868" y="365" width="1" height="4" fill="#ff0000"/>
<rect x="872" y="330" width="1" height="40" fill="#000"/>
<rect x="871" y="331" width="3" height="33" fill="#000"/>
<rect x="872" y="332" width="1" height="31" fill="#ff0000"/>
<rect x="876" y="334" width="1" height="4" fill="#000"/>
<rect x="875" y="336" width="3" height="1" fill="#000"/>
<rect x="880" y="327" width="1" height="25" fill="#000"/>
<rect x="879" y="335" width="3" height="15" fill="#000"/>
<rect x="880" y="336" width="1" height="13" fill="#00ff00"/>
<rect x="884" y="346" width="1" height="25" fill="#000"/>
<rect x="883" y="350" width="3" height="16" fill="#000"/>
<rect x="884" y="351" width="1" height="14" fill="#00ff00"/>
<rect x="888" y="354" width="1" height="31" fill="#000"/>
<rect x="887" y="366" width="3" height="10" fill="#000"/>
<rect x="888" y="367" width="1" height="8" fill="#00ff00"/>
<rect x="892" y="358" width="1" height="32" fill="#000"/>
<rect x="891" y="363" width="3" height="13" fill="#000"/>
<rect x="892" y="364" width="1" height="11" fill="#ff0000"/>
<rect x="896" y="357" width="1" height="35" fill="#000"/>
<rect x="895" y="363" width="3" height="25" fill="#000"/>
<rect x="896" y="364" width="1" height="23" fill="#00ff00"/>
<rect x="900" y="384" width="1" height="1" fill="#000"/>
<rect x="899" y="384" width="3" height="1" fill="#000"/>
<rect x="904" y="377" width="1" height="20" fill="#000"/>
<rect x="903" y="386" width="3" height="1" fill="#000"/>
<rect x="908" y="382" width="1" height="34" fill="#000"/>
<rect x="907" y="387" width="3" height="21" fill="#000"/>
<rect x="908" y="388" width="1" height="19" fill="#00ff00"/>
<rect x="912" y="393" width="1" height="26" fill="#000"/>
<rect x="911" y="395" width="3" height="13" fill="#000"/>
<rect x="912" y="396" width="1" height="11" fill="#ff0000"/>
<rect x="916" y="377" width="1" height="24" fill="#000"/>
<rect x="915" y="395" width="3" height="1" fill="#000"/>
<rect x="920" y="386" width="1" height="22" fill="#000"/>
<rect x="919" y="393" width="3" height="3" fill="#000"/>
<rect x="920" y="394" width="1" height="1" fill="#ff0000"/>
<rect x="924" y="388" width="1" height="4" fill="#000"/>
<rect x="923" y="390" width="3" height="1" fill="#000"/>
<rect x="928" y="387" width="1" height="25" fill="#000"/>
<rect x="927" y="390" width="3" height="4" fill="#000"/>
<rect x="928" y="391" width="1" height="2" fill="#00ff00"/>
<rect x="4" y="108" width="1168" height="2" fill="#ff0000"/>
<rect x="4" y="208" width="1168" height="2" fill="#ff0000"/>
<rect x="4" y="300" width="1168" height="2" fill="#00ff00"/>
<rect x="4" y="384" width="1168" height="2" fill="#0000ff"/>
<rect x="4" y="394" width="1168" height="1" fill="#000000"/>
<rect x="4" y="469" width="1168" height="2" fill="#0000ff"/>
</g>
<g clip-path="url(#macd)">
<rect x="3" y="502" width="3" height="11" fill="#00ff00"/>
<rect x="7" y="502" width="3" height="11" fill="#00ff00"/>
<rect x="11" y="502" width="3" height="11" fill="#00ff00"/>
<rect x="15" y="502" width="3" height="11" fill="#00ff00"/>
<rect x="19" y="503" width="3" height="10" fill="#00ff00"/>
<rect x="23" y="503" width="3" height="10" fill="#00ff00"/>
<rect x="27" y="503" width="3" height="10" fill="#00ff00"/>
<rect x="31" y="503" width="3" height="10" fill="#00ff00"/>
<rect x="35" y="502" width="3" height="11" fill="#00ff00"/>
<rect x="39" y="502" width="3" height="11" fill="#00ff00"/>
<rect x="43" y="502" width="3" height="11" fill="#00ff00"/>
<rect x="47" y="502" width="3" height="11" fill="#00ff00"/>
<rect x="51" y="502" width="3" height="11" fill="#00ff00"/>
<rect x="55" y="502" width="3" height="11" fill="#00ff00"/>
<rect x="59" y="502" width="3" height="11" fill="#00ff00"/>
<rect x="63" y="502" width="3" height="11" fill="#00ff00"/>
<rect x="67" y="502" width="3" height="11" fill="#00ff00"/>
<rect x="71" y="502" width="3" height="11" fill="#00ff00"/>
<rect x="75" y="502" width="3" height="11" fill="#00ff00"/>
<rect x="79" y="502" width="3" height="11" fill="#00ff00"/>
<rect x="83" y="504" width="3" height="9" fill="#00ff00"/>
<rect x="87" y="505" width="3" height="8" fill="#00ff00"/>
<rect x="91" y="505" width="3" height="8" fill="#00ff00"/>
<rect x="95" y="505" width="3" height="8" fill="#00ff00"/>
<rect x="99" y="505" width="3" height="8" fill="#00ff00"/>
<rect x="103" y="505" width="3" height="8" fill="#00ff00"/>
<rect x="107" y="506" width="3" height="7" fill="#00ff00"/>
<rect x="111" y="506" width="3" height="7" fill="#00ff00"/>
<rect x="115" y="506" width="3" height="7" fill="#00ff00"/>
<rect x="119" y="501" width="3" height="12" fill="#00ff00"/>
<rect x="123" y="496" width="3" height="17" fill="#00ff00"/>
<rect x="127" y="494" width="3" height="19" fill="#00ff00"/>
<rect x="131" y="490" width="3" height="23" fill="#00ff00"/>
<rect x="135" y="483" width="3" height="30" fill="#00ff00"/>
<rect x="139" y="480" width="3" height="33" fill="#00ff00"/>
<rect x="143" y="477" width="3" height="36" fill="#00ff00"/>
<rect x="147" y="480" width="3" height="33" fill="#00ff00"/>
<rect x="151" y="483" width="3" height="30" fill="#00ff00"/>
<rect x="155" y="487" width="3" height="26" fill="#00ff00"/>
<rect x="159" y="489" width="3" height="24" fill="#00ff00"/>
<rect x="163" y="493" width="3" height="20" fill="#00ff00"/>
<rect x="167" y="499" width="3" height="14" fill="#00ff00"/>
<rect x="171" y="504" width="3" height="9" fill="#00ff00"/>
<rect x="175" y="505" width="3" height="8" fill="#00ff00"/>
<rect x="179" y="506" width="3" height="7" fill="#00ff00"/>
<rect x="183" y="507" width="3" height="6" fill="#00ff00"/>
<rect x="187" y="504" width="3" height="9" fill="#00ff00"/>
<rect x="191" y="504" width="3" height="9" fill="#00ff00"/>
<rect x="195" y="503" width="3" height="10" fill="#00ff00"/>
<rect x="199" y="501" width="3" height="12" fill="#00ff00"/>
<rect x="203" y="500" width="3" height="13" fill="#00ff00"/>
<rect x="207" y="501" width="3" height="12" fill="#00ff00"/>
<rect x="211" y="504" width="3" height="9" fill="#00ff00"/>
<rect x="215" y="505" width="3" height="8" fill="#00ff00"/>
<rect x="219" y="505" width="3" height="8" fill="#00ff00"/>
<rect x="223" y="508" width="3" height="5" fill="#00ff00"/>
<rect x="227" y="511" width="3" height="2" fill="#00ff00"/>
<rect x="231" y="513" width="3" height="2" fill="#00ff00"/>
<rect x="235" y="513" width="3" height="2" fill="#00ff00"/>
<rect x="239" y="513" width="3" height="3" fill="#00ff00"/>
<rect x="243" y="513" width="3" height="5" fill="#00ff00"/>
<rect x="247" y="513" width="3" height="7" fill="#00ff00"/>
<rect x="251" y="513" width="3" height="8" fill="#00ff00"/>
<rect x="255" y="513" width="3" height="9" fill="#00ff00"/>
<rect x="259" y="513" width="3" height="10" fill="#00ff00"/>
<rect x="263" y="513" width="3" height="8" fill="#00ff00"/>
<rect x="267" y="513" width="3" height="5" fill="#00ff00"/>
<rect x="271" y="513" width="3" height="5" fill="#00ff00"/>
<rect x="275" y="513" width="3" height="2" fill="#00ff00"/>
<rect x="279" y="512" width="3" height="1" fill="#00ff00"/>
<rect x="283" y="512" width="3" height="1" fill="#00ff00"/>
<rect x="287" y="513" width="3" height="1" fill="#00ff00"/>
<rect x="291" y="513" width="3" height="1" fill="#00ff00"/>
<rect x="295" y="513" width="3" height="1" fill="#00ff00"/>
<rect x="299" y="513" width="3" height="1" fill="#00ff00"/>
<rect x="303" y="513" width="3" height="3" fill="#00ff00"/>
<rect x="307" y="513" width="3" height="3" fill="#00ff00"/>
<rect x="311" y="513" width="3" height="3" fill="#00ff00"/>
<rect x="315" y="513" width="3" height="1" fill="#00ff00"/>
<rect x="319" y="513" width="3" height="1" fill="#00ff00"/>
<rect x="323" y="512" width="3" height="1" fill="#00ff00"/>
<rect x="327" y="512" width="3" height="1" fill="#00ff00"/>
<rect x="331" y="512" width="3" height="1" fill="#00ff00"/>
<rect x="335" y="510" width="3" height="3" fill="#00ff00"/>
<rect x="339" y="509" width="3" height="4" fill="#00ff00"/>
<rect x="343" y="507" width="3" height="6" fill="#00ff00"/>
<rect x="347" y="507" width="3" height="6" fill="#00ff00"/>
<rect x="351" y="508" width="3" height="5" fill="#00ff00"/>
<rect x="355" y="510" width="3" height="3" fill="#00ff00"/>
<rect x="359" y="510" width="3" height="3" fill="#00ff00"/>
<rect x="363" y="510" width="3" height="3" fill="#00ff00"/>
<rect x="367" y="510" width="3" height="3" fill="#00ff00"/>
<rect x="371" y="508" width="3" height="5" fill="#00ff00"/>
<rect x="375" y="505" width="3" height="8" fill="#00ff00"/>
<rect x="379" y="504" width="3" height="9" fill="#00ff00"/>
<rect x="383" y="506" width="3" height="7" fill="#00ff00"/>
<rect x="387" y="506" width="3" height="7" fill="#00ff00"/>
<rect x="391" y="507" width="3" height="6" fill="#00ff00"/>
<rect x="395" y="507" width="3" height="6" fill="#00ff00"/>
<rect x="399" y="506" width="3" height="7" fill="#00ff00"/>
<rect x="403" y="506" width="3" height="7" fill="#00ff00"/>
<rect x="407" y="506" width="3" height="7" fill="#00ff00"/>
<rect x="411" y="506" width="3" height="7" fill="#00ff00"/>
<rect x="415" y="504" width="3" height="9" fill="#00ff00"/>
<rect x="419" y="503" width="3" height="10" fill="#00ff00"/>
<rect x="423" y="502" width="3" height="11" fill="#00ff00"/>
<rect x="427" y="502" width="3" height="11" fill="#00ff00"/>
<rect x="431" y="504" width="3" height="9" fill="#00ff00"/>
<rect x="435" y="503" width="3" height="10" fill="#00ff00"/>
<rect x="439" y="502" width="3" height="11" fill="#00ff00"/>
<rect x="443" y="500" width="3" height="13" fill="#00ff00"/>
<rect x="447" y="500" width="3" height="13" fill="#00ff00"/>
<rect x="451" y="499" width="3" height="14" fill="#00ff00"/>
<rect x="455" y="499" width="3" height="14" fill="#00ff00"/>
<rect x="459" y="498" width="3" height="15" fill="#00ff00"/>
<rect x="463" y="500" width="3" height="13" fill="#00ff00"/>
<rect x="467" y="500" width="3" height="13" fill="#00ff00"/>
<rect x="471" y="500" width="3" height="13" fill="#00ff00"/>
<rect x="475" y="501" width="3" height="12" fill="#00ff00"/>
<rect x="479" y="503" width="3" height="10" fill="#00ff00"/>
<rect x="483" y="505" width="3" height="8" fill="#00ff00"/>
<rect x="487" y="508" width="3" height="5" fill="#00ff00"/>
<rect x="491" y="511" width="3" height="2" fill="#00ff00"/>
<rect x="495" y="513" width="3" height="1" fill="#00ff00"/>
<rect x="499" y="513" width="3" height="3" fill="#00ff00"/>
<rect x="503" y="513" width="3" height="5" fill="#00ff00"/>
<rect x="507" y="513" width="3" height="8" fill="#00ff00"/>
<rect x="511" y="513" width="3" height="9" fill="#00ff00"/>
<rect x="515" y="513" width="3" height="10" fill="#00ff00"/>
<rect x="519" y="513" width="3" height="9" fill="#00ff00"/>
<rect x="523" y="513" width="3" height="7" fill="#00ff00"/>
<rect x="527" y="513" width="3" height="5" fill="#00ff00"/>
<rect x="531" y="513" width="3" height="6" fill="#00ff00"/>
<rect x="535" y="513" width="3" height="6" fill="#00ff00"/>
<rect x="539" y="513" width="3" height="6" fill="#00ff00"/>
<rect x="543" y="513" width="3" height="6" fill="#00ff00"/>
<rect x="547" y="513" width="3" height="9" fill="#00ff00"/>
<rect x="551" y="513" width="3" height="11" fill="#00ff00"/>
<rect x="555" y="513" width="3" height="11" fill="#00ff00"/>
<rect x="559" y="513" width="3" height="11" fill="#00ff00"/>
<rect x="563" y="513" width="3" height="10" fill="#00ff00"/>
<rect x="567" y="513" width="3" height="11" fill="#00ff00"/>
<rect x="571" y="513" width="3" height="13" fill="#00ff00"/>
<rect x="575" y="513" width="3" height="16" fill="#00ff00"/>
<rect x="579" y="513" width="3" height="16" fill="#00ff00"/>
<rect x="583" y="513" width="3" height="16" fill="#00ff00"/>
<rect x="587" y="513" width="3" height="16" fill="#00ff00"/>
<rect x="591" y="513" width="3" height="15" fill="#00ff00"/>
<rect x="595" y="513" width="3" height="14" fill="#00ff00"/>
<rect x="599" y="513" width="3" height="14" fill="#00ff00"/>
<rect x="603" y="513" width="3" height="14" fill="#00ff00"/>
<rect x="607" y="513" width="3" height="14" fill="#00ff00"/>
<rect x="611" y="513" width="3" height="14" fill="#00ff00"/>
<rect x="615" y="513" width="3" height="14" fill="#00ff00"/>
<rect x="619" y="513" width="3" height="14" fill="#00ff00"/>
<rect x="623" y="513" width="3" height="13" fill="#00ff00"/>
<rect x="627" y="513" width="3" height="12" fill="#00ff00"/>
<rect x="631" y="513" width="3" height="11" fill="#00ff00"/>
<rect x="635" y="513" width="3" height="11" fill="#00ff00"/>
<rect x="639" y="513" width="3" height="12" fill="#00ff00"/>
<rect x="643" y="513" width="3" height="12" fill="#00ff00"/>
<rect x="647" y="513" width="3" height="12" fill="#00ff00"/>
<rect x="651" y="513" width="3" height="13" fill="#00ff00"/>
<rect x="655" y="513" width="3" height="15" fill="#00ff00"/>
<rect x="659" y="513" width="3" height="16" fill="#00ff00"/>
<rect x="663" y="513" width="3" height="16" fill="#00ff00"/>
<rect x="667" y="513" width="3" height="15" fill="#00ff00"/>
<rect x="671" y="513" width="3" height="15" fill="#00ff00"/>
<rect x="675" y="513" width="3" height="13" fill="#00ff00"/>
<rect x="679" y="513" width="3" height="13" fill="#00ff00"/>
<rect x="683" y="513" width="3" height="13" fill="#00ff00"/>
<rect x="687" y="513" width="3" height="13" fill="#00ff00"/>
<rect x="691" y="513" width="3" height="12" fill="#00ff00"/>
<rect x="695" y="513" width="3" height="11" fill="#00ff00"/>
<rect x="699" y="513" width="3" height="11" fill="#00ff00"/>
<rect x="703" y="513" width="3" height="10" fill="#00ff00"/>
<rect x="707" y="513" width="3" height="7" fill="#00ff00"/>
<rect x="711" y="513" width="3" height="7" fill="#00ff00"/>
<rect x="715" y="513" width="3" height="7" fill="#00ff00"/>
<rect x="719" y="513" width="3" height="5" fill="#00ff00"/>
<rect x="723" y="513" width="3" height="5" fill="#00ff00"/>
<rect x="727" y="513" width="3" height="5" fill="#00ff00"/>
<rect x="731" y="513" width="3" height="3" fill="#00ff00"/>
<rect x="735" y="513" width="3" height="1" fill="#00ff00"/>
<rect x="739" y="513" width="3" height="1" fill="#00ff00"/>
<rect x="743" y="513" width="3" height="3" fill="#00ff00"/>
<rect x="747" y="513" width="3" height="3" fill="#00ff00"/>
<rect x="751" y="513" width="3" height="5" fill="#00ff00"/>
<rect x="755" y="513" width="3" height="5" fill="#00ff00"/>
<rect x="759" y="513" width="3" height="5" fill="#00ff00"/>
<rect x="763" y="513" width="3" height="7" fill="#00ff00"/>
<rect x="767" y="513" width="3" height="9" fill="#00ff00"/>
<rect x="771" y="513" width="3" height="10" fill="#00ff00"/>
<rect x="775" y="513" width="3" height="10" fill="#00ff00"/>
<rect x="779" y="513" width="3" height="10" fill="#00ff00"/>
<rect x="783" y="513" width="3" height="9" fill="#00ff00"/>
<rect x="787" y="513" width="3" height="9" fill="#00ff00"/>
<rect x="791" y="513" width="3" height="9" fill="#00ff00"/>
<rect x="795" y="513" width="3" height="9" fill="#00ff00"/>
<rect x="799" y="513" width="3" height="9" fill="#00ff00"/>
<rect x="803" y="513" width="3" height="9" fill="#00ff00"/>
<rect x="807" y="513" width="3" height="9" fill="#00ff00"/>
<rect x="811" y="513" width="3" height="9" fill="#00ff00"/>
<rect x="815" y="513" width="3" height="9" fill="#00ff00"/>
<rect x="819" y="513" width="3" height="9" fill="#00ff00"/>
<rect x="823" y="513" width="3" height="10" fill="#00ff00"/>
<rect x="827" y="513" width="3" height="11" fill="#00ff00"/>
<rect x="831" y="513" width="3" height="13" fill="#00ff00"/>
<rect x="835" y="513" width="3" height="13" fill="#00ff00"/>
<rect x="839" y="513" width="3" height="11" fill="#00ff00"/>
<rect x="843" y="513" width="3" height="11" fill="#00ff00"/>
<rect x="847" y="513" width="3" height="11" fill="#00ff00"/>
<rect x="851" y="513" width="3" height="10" fill="#00ff00"/>
<rect x="855" y="513" width="3" height="10" fill="#00ff00"/>
<rect x="859" y="513" width="3" height="7" fill="#00ff00"/>
<rect x="863" y="513" width="3" height="5" fill="#00ff00"/>
<rect x="867" y="513" width="3" height="3" fill="#00ff00"/>
<rect x="871" y="512" width="3" height="1" fill="#00ff00"/>
<rect x="875" y="509" width="3" height="4" fill="#00ff00"/>
<rect x="879" y="508" width="3" height="5" fill="#00ff00"/>
<rect x="883" y="508" width="3" height="5" fill="#00ff00"/>
<rect x="887" y="509" width="3" height="4" fill="#00ff00"/>
<rect x="891" y="509" width="3" height="4" fill="#00ff00"/>
<rect x="895" y="511" width="3" height="2" fill="#00ff00"/>
<rect x="899" y="511" width="3" height="2" fill="#00ff00"/>
<rect x="903" y="511" width="3" height="2" fill="#00ff00"/>
<rect x="907" y="512" width="3" height="1" fill="#00ff00"/>
<rect x="911" y="513" width="3" height="1" fill="#00ff00"/>
<rect x="915" y="513" width="3" height="1" fill="#00ff00"/>
<rect x="919" y="513" width="3" height="2" fill="#00ff00"/>
<rect x="923" y="513" width="3" height="2" fill="#00ff00"/>
<rect x="927" y="513" width="3" height="2" fill="#00ff00"/>
<polyline points="4.0,500.8 20.0,501.5 37.0,500.6 80.0,500.8 92.5,502.6 107.0,504.5 119.0,504.5 131.0,501.8 141.7,493.6 153.6,486.9 162.5,485.1 170.0,488.4 176.0,491.1 183.5,496.6 191.0,500.3 197.0,503.6 207.0,503.6 212.0,502.6 224.0,502.9 236.0,506.3 246.0,510.8 255.0,515.2 265.5,518.7 280.0,518.7 289.0,517.2 301.0,514.0 335.6,513.8 341.5,511.5 352.0,510.5 368.4,509.3 377.4,507.8 396.7,506.6 419.0,505.5 441.5,502.6 459.4,500.0 475.8,499.3 486.2,500.6 495.2,503.6 504.0,507.8 510.0,512.3 519.0,516.7 528.0,519.4 547.4,519.7 553.4,520.9 565.3,522.0 577.2,524.9 590.6,526.1 601.0,527.9 616.0,527.9 629.4,526.0 641.3,524.5 663.7,524.9 696.5,525.7 704.0,524.2 716.0,523.4 726.4,522.0 741.3,518.2 748.7,516.7 756.2,515.7 763.6,516.7 774.0,519.0 784.5,520.5 813.0,520.0 823.0,520.0 832.0,521.7 842.7,523.1 863.4,522.8 872.0,520.7 880.0,516.3 887.0,514.5 894.6,512.0 903.5,510.0 912.5,510.0 921.4,511.5 928.9,512.0" fill="none" stroke="#ff0000" stroke-width="2" stroke-linejoin="round" shape-rendering="crispEdges"/>
</g>
<g clip-path="url(#rsi)">
<line x1="4" y1="554.5" x2="1171" y2="554.5" stroke="#000" stroke-width="1" stroke-dasharray="3,2"/>
<line x1="4" y1="580.5" x2="1171" y2="580.5" stroke="#000" stroke-width="1" stroke-dasharray="3,2"/>
<polyline points="4.0,554.9 14.9,554.9 22.4,553.9 27.6,555.7 35.0,550.9 43.2,551.4 47.7,557.6 56.7,557.6 61.1,551.7 67.9,550.9 71.6,557.6 80.5,563.9 89.5,560.6 96.9,561.4 104.4,557.6 108.6,563.6 111.8,557.6 115.6,558.4 120.8,550.9 128.2,550.5 131.2,550.5 136.4,545.7 140.2,551.7 143.9,550.9 148.4,562.8 158.0,564.0 167.0,570.6 173.0,570.6 177.5,566.9 183.5,566.9 188.0,561.8 192.4,563.6 196.9,561.8 205.8,562.8 211.8,567.6 216.3,566.9 220.7,566.9 225.2,571.0 233.4,571.0 236.4,567.6 243.9,571.8 256.5,571.8 261.0,573.0 264.7,567.0 268.5,567.0 272.9,564.0 278.9,562.8 284.9,567.6 295.3,567.6 299.8,568.8 304.2,571.0 308.0,567.6 313.2,567.3 317.7,564.8 328.8,564.8 332.6,567.0 337.0,562.1 340.8,560.6 348.2,560.6 352.0,569.1 356.5,571.8 361.0,565.8 364.7,565.8 369.9,562.1 374.4,559.9 380.3,559.4 384.0,567.8 389.3,564.6 395.2,563.6 398.2,564.8 404.2,564.8 410.2,563.1 413.1,560.6 417.6,559.6 422.0,558.4 425.8,559.1 432.5,564.0 437.0,559.9 443.0,558.1 447.4,559.9 451.9,559.9 456.4,558.1 461.6,558.4 466.8,561.6 471.3,560.6 475.8,562.8 480.2,565.8 484.7,568.0 487.7,573.6 501.1,573.6 504.1,577.8 507.8,577.8 511.6,574.0 516.8,574.0 520.5,568.5 525.0,567.6 528.7,569.1 532.5,572.5 537.7,569.6 540.7,569.6 544.1,567.6 548.9,575.5 552.6,576.6 557.8,571.5 563.8,570.7 568.3,571.8 572.7,577.8 578.7,575.5 584.7,574.5 590.6,573.6 594.4,571.5 598.8,571.0 604.8,575.1 614.5,575.1 620.5,574.0 624.2,571.0 632.4,571.0 635.4,570.0 639.8,574.8 644.3,575.0 653.3,580.0 659.2,579.0 665.2,575.1 670.4,574.5 676.4,570.0 680.1,571.5 683.8,571.8 689.0,576.6 695.8,576.6 699.5,571.8 710.0,571.8 715.9,565.1 720.4,563.9 724.9,566.9 733.1,566.9 736.5,561.8 740.5,568.0 747.2,573.7 754.0,573.7 757.7,571.8 763.6,572.2 768.9,577.8 772.6,576.3 777.0,571.3 781.5,570.7 786.0,569.1 792.0,567.8 795.7,572.8 800.2,572.8 806.9,571.0 812.9,573.7 821.0,574.0 824.8,576.6 828.2,576.6 833.0,580.0 839.4,571.8 842.4,571.0 848.3,573.0 852.8,570.0 856.5,568.5 861.0,564.0 864.7,562.5 868.5,562.1 872.2,558.1 875.9,558.1 881.1,562.5 886.4,565.5 889.3,565.5 892.3,564.8 896.0,567.6 904.3,567.6 908.7,570.7 913.9,568.8 920.7,568.8 922.9,567.6 924.4,568.5 928.9,568.8" fill="none" stroke="#1e90ff" stroke-width="2" stroke-linejoin="round" shape-rendering="crispEdges"/>
</g>
<text x="8.5" y="486" font-size="9.6" fill="#000" font-weight="normal" text-anchor="start" textLength="130" lengthAdjust="spacingAndGlyphs" stroke="#000" stroke-width="0.2">MACD(12,26,9) -0.2242 0.1758</text>
<text x="8.2" y="547" font-size="9.6" fill="#000" font-weight="normal" text-anchor="start" textLength="68" lengthAdjust="spacingAndGlyphs" stroke="#000" stroke-width="0.2">RSI(14) 47.5489</text>
<text x="1175" y="484" font-size="9.6" fill="#000" font-weight="normal" text-anchor="start" textLength="29" lengthAdjust="spacingAndGlyphs" stroke="#000" stroke-width="0.2">9.2266</text>
<rect x="1172" y="513" width="3" height="1" fill="#000"/>
<text x="1175" y="517" font-size="9.6" fill="#000" font-weight="normal" text-anchor="start" textLength="18.5" lengthAdjust="spacingAndGlyphs" stroke="#000" stroke-width="0.2">0.00</text>
<text x="1175" y="529" font-size="9.6" fill="#000" font-weight="normal" text-anchor="start" textLength="32" lengthAdjust="spacingAndGlyphs" stroke="#000" stroke-width="0.2">-4.4188</text>
<text x="1175" y="545" font-size="9.6" fill="#000" font-weight="normal" text-anchor="start" textLength="15" lengthAdjust="spacingAndGlyphs" stroke="#000" stroke-width="0.2">100</text>
<rect x="1172" y="554" width="3" height="1" fill="#000"/>
<text x="1175" y="558" font-size="9.6" fill="#000" font-weight="normal" text-anchor="start" textLength="10" lengthAdjust="spacingAndGlyphs" stroke="#000" stroke-width="0.2">70</text>
<rect x="1172" y="580" width="3" height="1" fill="#000"/>
<text x="1175" y="584" font-size="9.6" fill="#000" font-weight="normal" text-anchor="start" textLength="10" lengthAdjust="spacingAndGlyphs" stroke="#000" stroke-width="0.2">30</text>
<text x="1175" y="596" font-size="9.6" fill="#000" font-weight="normal" text-anchor="start" textLength="5" lengthAdjust="spacingAndGlyphs" stroke="#000" stroke-width="0.2">0</text>
<path d="M7 30 L14.5 30 L10.75 34 Z" fill="#000"/>
<text x="19" y="35" font-size="9.6" fill="#000" font-weight="normal" text-anchor="start" textLength="52" lengthAdjust="spacingAndGlyphs" stroke="#000" stroke-width="0.2">USOil-,Daily</text>
<text x="78" y="35" font-size="9.6" fill="#000" font-weight="normal" text-anchor="start" textLength="120" lengthAdjust="spacingAndGlyphs" stroke="#000" stroke-width="0.2">85.338 85.849 82.642 84.937</text>
<path d="M931.5 23.5 L941.5 23.5 L936.5 29 Z" fill="#000"/>
<rect x="1172" y="39" width="3" height="1" fill="#000"/>
<text x="1177.2" y="43" font-size="9.6" fill="#000" font-weight="normal" text-anchor="start" textLength="34" lengthAdjust="spacingAndGlyphs" stroke="#000" stroke-width="0.2">131.300</text>
<rect x="1172" y="72" width="3" height="1" fill="#000"/>
<text x="1177.2" y="76" font-size="9.6" fill="#000" font-weight="normal" text-anchor="start" textLength="34" lengthAdjust="spacingAndGlyphs" stroke="#000" stroke-width="0.2">126.880</text>
<rect x="1172" y="105" width="3" height="1" fill="#000"/>
<text x="1177.2" y="109" font-size="9.6" fill="#000" font-weight="normal" text-anchor="start" textLength="34" lengthAdjust="spacingAndGlyphs" stroke="#000" stroke-width="0.2">122.590</text>
<rect x="1172" y="138" width="3" height="1" fill="#000"/>
<text x="1177.2" y="142" font-size="9.6" fill="#000" font-weight="normal" text-anchor="start" textLength="34" lengthAdjust="spacingAndGlyphs" stroke="#000" stroke-width="0.2">118.300</text>
<rect x="1172" y="172" width="3" height="1" fill="#000"/>
<text x="1177.2" y="176" font-size="9.6" fill="#000" font-weight="normal" text-anchor="start" textLength="34" lengthAdjust="spacingAndGlyphs" stroke="#000" stroke-width="0.2">114.010</text>
<rect x="1172" y="204" width="3" height="1" fill="#000"/>
<text x="1177.2" y="208" font-size="9.6" fill="#000" font-weight="normal" text-anchor="start" textLength="34" lengthAdjust="spacingAndGlyphs" stroke="#000" stroke-width="0.2">109.720</text>
<rect x="1172" y="237" width="3" height="1" fill="#000"/>
<text x="1177.2" y="241" font-size="9.6" fill="#000" font-weight="normal" text-anchor="start" textLength="34" lengthAdjust="spacingAndGlyphs" stroke="#000" stroke-width="0.2">105.430</text>
<rect x="1172" y="270" width="3" height="1" fill="#000"/>
<text x="1177.2" y="274" font-size="9.6" fill="#000" font-weight="normal" text-anchor="start" textLength="34" lengthAdjust="spacingAndGlyphs" stroke="#000" stroke-width="0.2">101.010</text>
<rect x="1172" y="303" width="3" height="1" fill="#000"/>
<text x="1177.2" y="307" font-size="9.6" fill="#000" font-weight="normal" text-anchor="start" textLength="28" lengthAdjust="spacingAndGlyphs" stroke="#000" stroke-width="0.2">96.720</text>
<rect x="1172" y="336" width="3" height="1" fill="#000"/>
<text x="1177.2" y="340" font-size="9.6" fill="#000" font-weight="normal" text-anchor="start" textLength="28" lengthAdjust="spacingAndGlyphs" stroke="#000" stroke-width="0.2">92.430</text>
<rect x="1172" y="369" width="3" height="1" fill="#000"/>
<text x="1177.2" y="373" font-size="9.6" fill="#000" font-weight="normal" text-anchor="start" textLength="28" lengthAdjust="spacingAndGlyphs" stroke="#000" stroke-width="0.2">88.140</text>
<rect x="1172" y="402" width="3" height="1" fill="#000"/>
<text x="1177.2" y="406" font-size="9.6" fill="#000" font-weight="normal" text-anchor="start" textLength="28" lengthAdjust="spacingAndGlyphs" stroke="#000" stroke-width="0.2">83.850</text>
<rect x="1172" y="436" width="3" height="1" fill="#000"/>
<text x="1177.2" y="440" font-size="9.6" fill="#000" font-weight="normal" text-anchor="start" textLength="28" lengthAdjust="spacingAndGlyphs" stroke="#000" stroke-width="0.2">79.560</text>
<rect x="1173" y="103" width="34" height="11" fill="#ff0000"/>
<text x="1177.2" y="112" font-size="9.6" fill="#fff" font-weight="normal" text-anchor="start" textLength="34" lengthAdjust="spacingAndGlyphs" stroke="#fff" stroke-width="0.15">122.068</text>
<rect x="1173" y="203" width="34" height="11" fill="#ff0000"/>
<text x="1177.2" y="212" font-size="9.6" fill="#fff" font-weight="normal" text-anchor="start" textLength="34" lengthAdjust="spacingAndGlyphs" stroke="#fff" stroke-width="0.15">109.038</text>
<rect x="1173" y="295" width="34" height="11" fill="#00ff00"/>
<text x="1177.2" y="304" font-size="9.6" fill="#fff" font-weight="normal" text-anchor="start" textLength="28" lengthAdjust="spacingAndGlyphs" stroke="#fff" stroke-width="0.15">97.007</text>
<rect x="1173" y="379" width="34" height="11" fill="#0000ff"/>
<text x="1177.2" y="388" font-size="9.6" fill="#fff" font-weight="normal" text-anchor="start" textLength="28" lengthAdjust="spacingAndGlyphs" stroke="#fff" stroke-width="0.15">85.988</text>
<rect x="1173" y="390" width="34" height="10" fill="#000000"/>
<text x="1177.2" y="398" font-size="9.6" fill="#fff" font-weight="normal" text-anchor="start" textLength="28" lengthAdjust="spacingAndGlyphs" stroke="#fff" stroke-width="0.15">84.937</text>
<rect x="1173" y="465" width="34" height="11" fill="#0000ff"/>
<text x="1177.2" y="474" font-size="9.6" fill="#fff" font-weight="normal" text-anchor="start" textLength="28" lengthAdjust="spacingAndGlyphs" stroke="#fff" stroke-width="0.15">74.969</text>
<rect x="4" y="600" width="1" height="3" fill="#000"/>
<text x="3.5" y="611.6" font-size="9.6" fill="#000" font-weight="normal" text-anchor="start" textLength="49.3" lengthAdjust="spacingAndGlyphs" stroke="#000" stroke-width="0.2">26 Jan 2022</text>
<rect x="68" y="600" width="1" height="3" fill="#000"/>
<text x="67.5" y="611.6" font-size="9.6" fill="#000" font-weight="normal" text-anchor="start" textLength="51.6" lengthAdjust="spacingAndGlyphs" stroke="#000" stroke-width="0.2">14 Feb 2022</text>
<rect x="132" y="600" width="1" height="3" fill="#000"/>
<text x="131.5" y="611.6" font-size="9.6" fill="#000" font-weight="normal" text-anchor="start" textLength="47" lengthAdjust="spacingAndGlyphs" stroke="#000" stroke-width="0.2">4 Mar 2022</text>
<rect x="196" y="600" width="1" height="3" fill="#000"/>
<text x="195.5" y="611.6" font-size="9.6" fill="#000" font-weight="normal" text-anchor="start" textLength="51.4" lengthAdjust="spacingAndGlyphs" stroke="#000" stroke-width="0.2">23 Mar 2022</text>
<rect x="260" y="600" width="1" height="3" fill="#000"/>
<text x="259.5" y="611.6" font-size="9.6" fill="#000" font-weight="normal" text-anchor="start" textLength="50.2" lengthAdjust="spacingAndGlyphs" stroke="#000" stroke-width="0.2">11 Apr 2022</text>
<rect x="324" y="600" width="1" height="3" fill="#000"/>
<text x="323.5" y="611.6" font-size="9.6" fill="#000" font-weight="normal" text-anchor="start" textLength="49.6" lengthAdjust="spacingAndGlyphs" stroke="#000" stroke-width="0.2">1 May 2022</text>
<rect x="388" y="600" width="1" height="3" fill="#000"/>
<text x="387.5" y="611.6" font-size="9.6" fill="#000" font-weight="normal" text-anchor="start" textLength="54.3" lengthAdjust="spacingAndGlyphs" stroke="#000" stroke-width="0.2">19 May 2022</text>
<rect x="452" y="600" width="1" height="3" fill="#000"/>
<text x="451.5" y="611.6" font-size="9.6" fill="#000" font-weight="normal" text-anchor="start" textLength="44.6" lengthAdjust="spacingAndGlyphs" stroke="#000" stroke-width="0.2">7 Jun 2022</text>
<rect x="516" y="600" width="1" height="3" fill="#000"/>
<text x="515.5" y="611.6" font-size="9.6" fill="#000" font-weight="normal" text-anchor="start" textLength="49.3" lengthAdjust="spacingAndGlyphs" stroke="#000" stroke-width="0.2">26 Jun 2022</text>
<rect x="580" y="600" width="1" height="3" fill="#000"/>
<text x="579.5" y="611.6" font-size="9.6" fill="#000" font-weight="normal" text-anchor="start" textLength="46.6" lengthAdjust="spacingAndGlyphs" stroke="#000" stroke-width="0.2">14 Jul 2022</text>
<rect x="644" y="600" width="1" height="3" fill="#000"/>
<text x="643.5" y="611.6" font-size="9.6" fill="#000" font-weight="normal" text-anchor="start" textLength="47.5" lengthAdjust="spacingAndGlyphs" stroke="#000" stroke-width="0.2">2 Aug 2022</text>
<rect x="708" y="600" width="1" height="3" fill="#000"/>
<text x="707.5" y="611.6" font-size="9.6" fill="#000" font-weight="normal" text-anchor="start" textLength="51.7" lengthAdjust="spacingAndGlyphs" stroke="#000" stroke-width="0.2">21 Aug 2022</text>
<rect x="772" y="600" width="1" height="3" fill="#000"/>
<text x="771.5" y="611.6" font-size="9.6" fill="#000" font-weight="normal" text-anchor="start" textLength="46.8" lengthAdjust="spacingAndGlyphs" stroke="#000" stroke-width="0.2">8 Sep 2022</text>
<rect x="836" y="600" width="1" height="3" fill="#000"/>
<text x="835.5" y="611.6" font-size="9.6" fill="#000" font-weight="normal" text-anchor="start" textLength="51.7" lengthAdjust="spacingAndGlyphs" stroke="#000" stroke-width="0.2">27 Sep 2022</text>
<rect x="900" y="600" width="1" height="3" fill="#000"/>
<text x="899.5" y="611.6" font-size="9.6" fill="#000" font-weight="normal" text-anchor="start" textLength="50" lengthAdjust="spacingAndGlyphs" stroke="#000" stroke-width="0.2">16 Oct 2022</text>
<rect x="0" y="620" width="1207" height="2" fill="#f0f0f0"/>
<rect x="0" y="622" width="1207" height="1" fill="#000"/>
<rect x="0" y="623" width="1207" height="18" fill="#f0f0f0"/>
<rect x="0" y="641" width="1207" height="3" fill="#fafafa"/>
<rect x="0" y="623" width="1" height="18" fill="#696969"/>
<rect x="805" y="622" width="92" height="19" fill="#000"/>
<rect x="806" y="623" width="90" height="17" fill="#fff"/>
<text x="17.4" y="637" font-size="12.3" fill="#6d6d6d" font-weight="normal" text-anchor="start" textLength="63.4" lengthAdjust="spacingAndGlyphs" >USDX,Daily</text>
<text x="104.4" y="637" font-size="12.3" fill="#6d6d6d" font-weight="normal" text-anchor="start" textLength="84.6" lengthAdjust="spacingAndGlyphs" >EURUSD-,Daily</text>
<text x="211" y="637" font-size="12.3" fill="#6d6d6d" font-weight="normal" text-anchor="start" textLength="86.5" lengthAdjust="spacingAndGlyphs" >AUDUSD-,Daily</text>
<text x="321" y="637" font-size="12.3" fill="#6d6d6d" font-weight="normal" text-anchor="start" textLength="83" lengthAdjust="spacingAndGlyphs" >USDCHF-,Daily</text>
<text x="428" y="637" font-size="12.3" fill="#6d6d6d" font-weight="normal" text-anchor="start" textLength="86" lengthAdjust="spacingAndGlyphs" >USDCAD-,Daily</text>
<text x="537" y="637" font-size="12.3" fill="#6d6d6d" font-weight="normal" text-anchor="start" textLength="88" lengthAdjust="spacingAndGlyphs" >USDCNH-,Daily</text>
<text x="647" y="637" font-size="12.3" fill="#6d6d6d" font-weight="normal" text-anchor="start" textLength="55" lengthAdjust="spacingAndGlyphs" >HK50-,H1</text>
<text x="723" y="637" font-size="12.3" fill="#6d6d6d" font-weight="normal" text-anchor="start" textLength="70" lengthAdjust="spacingAndGlyphs" >EURCHF-,H1</text>
<text x="817.5" y="637" font-size="12.3" fill="#000" font-weight="normal" text-anchor="start" textLength="67.5" lengthAdjust="spacingAndGlyphs" >USOil-,Daily</text>
<text x="908" y="637" font-size="12.3" fill="#6d6d6d" font-weight="normal" text-anchor="start" textLength="68" lengthAdjust="spacingAndGlyphs" >UKOil-,Daily</text>
<text x="1000" y="637" font-size="12.3" fill="#6d6d6d" font-weight="normal" text-anchor="start" textLength="73" lengthAdjust="spacingAndGlyphs" >XAUUSD-,H1</text>
<text x="1096" y="637" font-size="12.3" fill="#6d6d6d" font-weight="normal" text-anchor="start" textLength="69" lengthAdjust="spacingAndGlyphs" >UKOil-,Daily</text>
<rect x="93" y="625" width="1" height="14" fill="#696969"/>
<rect x="201" y="625" width="1" height="14" fill="#696969"/>
<rect x="309" y="625" width="1" height="14" fill="#696969"/>
<rect x="417" y="625" width="1" height="14" fill="#696969"/>
<rect x="526" y="625" width="1" height="14" fill="#696969"/>
<rect x="637" y="625" width="1" height="14" fill="#696969"/>
<rect x="713" y="625" width="1" height="14" fill="#696969"/>
<rect x="987" y="625" width="1" height="14" fill="#696969"/>
<rect x="1081" y="625" width="1" height="14" fill="#696969"/>
<path d="M1181 631.5 L1185 628 L1185 635 Z" fill="#8a8a8a"/>
<path d="M1204 631.5 L1200 628 L1200 635 Z" fill="#8a8a8a"/>
<path d="M941.3,398.5 L953.3,359.9 L948.3,358.1 L960.7,345.4 L963.2,363.7 L958.3,362.5 Z" fill="#ff3333" shape-rendering="auto"/>
<path d="M983.1,321.6 L1052,408.8 L1049.2,411.5 L1065.6,417.7 L1061.4,400.9 L1058.6,403.2 Z" fill="#99cc00" shape-rendering="auto"/>
</svg></body></html>
